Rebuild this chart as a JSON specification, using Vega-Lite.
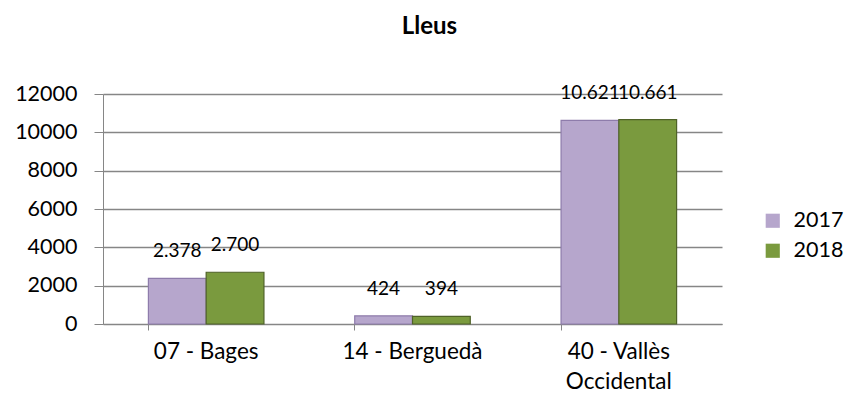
{
  "$schema": "https://vega.github.io/schema/vega-lite/v6.json",
  "autosize": "none",
  "width": 619,
  "height": 230,
  "padding": {"left": 103, "top": 94, "right": 125, "bottom": 79},
  "background": "white",
  "title": {"text": "Lleus", "fontSize": 24, "font": "Lato", "fontWeight": "bold", "color": "#000000", "dx": 17, "offset": 44, "anchor": "middle"},
  "data": {"values": [
    {"comarca": "07 - Bages", "any": "2017", "valor": 2378},
    {"comarca": "07 - Bages", "any": "2018", "valor": 2700},
    {"comarca": "14 - Berguedà", "any": "2017", "valor": 424},
    {"comarca": "14 - Berguedà", "any": "2018", "valor": 394},
    {"comarca": "40 - Vallès Occidental", "any": "2017", "valor": 10621},
    {"comarca": "40 - Vallès Occidental", "any": "2018", "valor": 10661}
  ]},
  "encoding": {
    "x": {"field": "comarca", "type": "nominal", "sort": null,
      "scale": {"paddingInner": 0.44, "paddingOuter": 0.22},
      "axis": {"title": null, "labelAngle": 0, "labelFont": "Lato", "labelFontSize": 22.5, "labelColor": "#000000",
        "domainColor": "#868686", "tickColor": "#868686", "tickSize": 6, "bandPosition": 0,
        "labelPadding": 10, "labelLineHeight": 30,
        "labelExpr": "datum.label == '40 - Vallès Occidental' ? ['40 - Vallès', 'Occidental'] : datum.label"}},
    "xOffset": {"field": "any", "type": "nominal", "scale": {"paddingInner": 0}},
    "y": {"field": "valor", "type": "quantitative",
      "scale": {"domain": [0, 12000]},
      "axis": {"title": null, "values": [0, 2000, 4000, 6000, 8000, 10000, 12000], "format": "d",
        "labelFont": "Lato", "labelFontSize": 21.5, "labelColor": "#000000", "labelPadding": 17,
        "tickSize": 9, "tickColor": "#868686", "domainColor": "#868686", "gridColor": "#868686", "gridWidth": 1.5}},
    "color": {"field": "any", "type": "nominal",
      "scale": {"domain": ["2017", "2018"], "range": ["#b6a6cc", "#7a9a3e"]},
      "legend": {"title": null, "orient": "none", "legendX": 659, "legendY": 116, "symbolType": "square", "symbolSize": 200,
        "labelFont": "Lato", "labelFontSize": 21.5, "labelColor": "#000000", "rowPadding": 7, "labelOffset": 10,
        "symbolStrokeWidth": 0}}
  },
  "layer": [
    {"mark": {"type": "bar", "strokeWidth": 1.2},
      "encoding": {"stroke": {"field": "any", "type": "nominal", "scale": {"domain": ["2017", "2018"], "range": ["#8e7cab", "#4f6228"]}, "legend": null}}},
    {"mark": {"type": "text", "font": "Lato", "fontSize": 19, "color": "#000000", "baseline": "alphabetic", "dy": -21},
      "encoding": {"text": {"field": "valor", "type": "quantitative", "format": ","}, "color": {"value": "#000000"}}}
  ],
  "config": {
    "view": {"stroke": null},
    "locale": {"number": {"decimal": ",", "thousands": ".", "grouping": [3], "currency": ["", " €"]}}
  }
}
